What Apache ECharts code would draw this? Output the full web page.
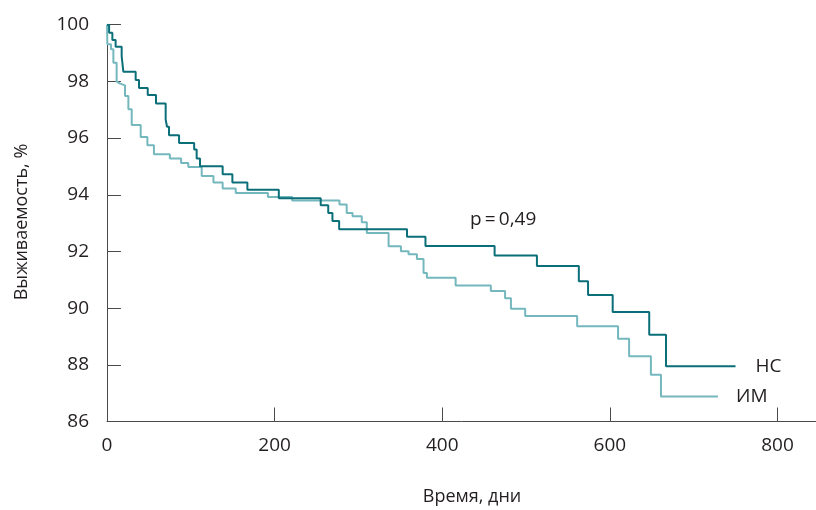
<!DOCTYPE html>
<html>
<head>
<meta charset="utf-8">
<script src="https://cdn.jsdelivr.net/npm/echarts@6/dist/echarts.min.js"></script>
<style>
html,body{margin:0;padding:0;background:#fff;}
#chart{width:816px;height:510px;}
</style>
</head>
<body>
<div id="chart"></div>
<script>
// Kaplan–Meier style step data: [day, survival %]
const nsDays   = [0,2.5,6.4,10.3,17.5,19.5,34.2,38.2,48.6,58.5,70,71.6,74,86,104,107,111,138,149.6,167.5,205,255,264,269,277,358,380,462.5,513,563,574,603.4,647,667,750];
const nsValues = [100,99.72,99.46,99.22,98.89,98.34,98.05,97.77,97.52,97.22,96.66,96.40,96.10,95.83,95.6,95.28,95.01,94.72,94.43,94.18,93.88,93.63,93.36,93.07,92.78,92.52,92.19,91.86,91.49,90.95,90.46,89.86,89.06,87.95,87.95];

const imDays   = [0,0.4,4.8,7.6,11.5,13,15,21.5,25.5,29.5,40.2,48.2,56,75,88.4,97,113,127,138,153.6,192,221,277.4,286,293,304,310,336,350.7,359.8,369.8,377.7,381.7,416,458,475,482,499,561,609.8,623,649,661,729];
const imValues = [100,99.31,99.13,98.66,98.0,97.93,97.86,97.48,97.02,96.46,96.04,95.75,95.43,95.28,95.12,94.98,94.66,94.43,94.22,94.06,93.92,93.80,93.66,93.36,93.24,93.03,92.65,92.18,92.01,91.90,91.73,91.24,91.07,90.80,90.60,90.35,89.98,89.72,89.36,88.92,88.30,87.65,86.88,86.88];

const xTicks = [0,200,400,600,800];
const yTicks = [86,88,90,92,94,96,98,100];
const seriesNames = ['НС','ИМ'];
const pText = 'p\u2009=\u20090,49';
const xName = 'Время, дни';
const yName = 'Выживаемость, %';

const FONT = '"Open Sans", "Noto Sans", sans-serif';
const chart = echarts.init(document.getElementById('chart'));

function zip(a,b){ return a.map((d,i)=>[d,b[i]]); }

chart.setOption({
  animation:false,
  grid:{left:107, right:0, top:24.7, bottom:88.5, containLabel:false},
  xAxis:{
    type:'value', min:0, max:846,
    axisLine:{show:true, lineStyle:{color:'#4a4a4a', width:1}},
    axisTick:{show:true, inside:true, length:14, lineStyle:{color:'#4a4a4a'}, customValues:xTicks},
    axisLabel:{color:'#231f20', fontSize:19, fontFamily:FONT, margin:15, customValues:xTicks},
    splitLine:{show:false}
  },
  yAxis:{
    type:'value', min:86, max:100, interval:2,
    axisLine:{show:true, lineStyle:{color:'#4a4a4a', width:1}},
    axisTick:{show:true, inside:true, length:14, lineStyle:{color:'#4a4a4a'}},
    axisLabel:{color:'#231f20', fontSize:19, fontFamily:FONT, margin:18},
    splitLine:{show:false}
  },
  series:[
    {
      name:seriesNames[0], type:'line', step:'end', showSymbol:false, symbol:'none',
      data:zip(nsDays,nsValues),
      lineStyle:{color:'#0a6f79', width:2},
      z:3,
      endLabel:{show:true, formatter:seriesNames[0], color:'#231f20', fontSize:19, fontFamily:FONT, distance:20}
    },
    {
      name:seriesNames[1], type:'line', step:'end', showSymbol:false, symbol:'none',
      data:zip(imDays,imValues),
      lineStyle:{color:'#74b8be', width:2},
      z:2,
      endLabel:{show:true, formatter:seriesNames[1], color:'#231f20', fontSize:19, fontFamily:FONT, distance:18}
    }
  ],
  graphic:[
    {type:'text', left:470, top:210, style:{text:pText, fill:'#231f20', font:'19px "Open Sans", "Noto Sans", sans-serif'}},
    {type:'text', x:472, y:497, style:{text:xName, fill:'#231f20', font:'18px "Open Sans", "Noto Sans", sans-serif', align:'center', verticalAlign:'middle'}},
    {type:'text', x:22, y:222, rotation:Math.PI/2, style:{text:yName, fill:'#231f20', font:'18px "Open Sans", "Noto Sans", sans-serif', align:'center', verticalAlign:'middle'}}
  ]
});
</script>
</body>
</html>
